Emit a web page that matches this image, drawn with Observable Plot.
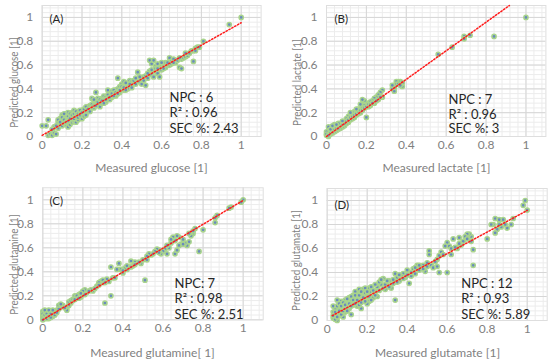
<!DOCTYPE html>
<html><head><meta charset="utf-8">
<script src="https://cdn.jsdelivr.net/npm/d3@7"></script>
<script src="https://cdn.jsdelivr.net/npm/@observablehq/plot@0.6"></script>
<style>
body{margin:0;background:#fff;}
#wrap{position:relative;width:550px;height:361px;overflow:hidden;}
.panel{position:absolute;}
</style></head><body><div id="wrap"></div><script>
// ---- data (measured, predicted) ----
const tickValues = [0, 0.2, 0.4, 0.6, 0.8, 1];

const glucosePoints = [[0.00,0.09],[0.02,0.09],[0.03,0.14],[0.03,0.01],[0.04,0.02],[0.05,0.01],[0.06,0.03],[0.07,0.02],[0.06,0.08],[0.08,0.12],[0.08,0.07],[0.09,0.10],[0.09,0.15],[0.10,0.18],[0.10,0.13],[0.10,0.09],[0.11,0.16],[0.11,0.11],[0.12,0.19],[0.12,0.14],[0.12,0.10],[0.13,0.20],[0.13,0.08],[0.13,0.15],[0.14,0.17],[0.14,0.12],[0.14,0.10],[0.15,0.20],[0.15,0.15],[0.15,0.12],[0.16,0.22],[0.16,0.17],[0.16,0.13],[0.17,0.19],[0.17,0.15],[0.17,0.12],[0.18,0.21],[0.18,0.17],[0.18,0.14],[0.19,0.20],[0.19,0.16],[0.20,0.22],[0.20,0.18],[0.20,0.15],[0.21,0.21],[0.21,0.19],[0.22,0.23],[0.22,0.20],[0.23,0.25],[0.23,0.21],[0.24,0.26],[0.24,0.23],[0.25,0.32],[0.25,0.25],[0.26,0.28],[0.26,0.24],[0.27,0.37],[0.27,0.30],[0.28,0.27],[0.28,0.32],[0.29,0.29],[0.29,0.25],[0.30,0.32],[0.30,0.28],[0.31,0.30],[0.31,0.34],[0.32,0.33],[0.32,0.29],[0.33,0.39],[0.33,0.32],[0.34,0.35],[0.34,0.31],[0.35,0.38],[0.35,0.33],[0.36,0.36],[0.37,0.39],[0.37,0.34],[0.38,0.49],[0.38,0.40],[0.39,0.37],[0.39,0.42],[0.40,0.44],[0.40,0.40],[0.41,0.46],[0.41,0.39],[0.42,0.42],[0.43,0.44],[0.43,0.40],[0.44,0.47],[0.45,0.43],[0.45,0.46],[0.46,0.45],[0.47,0.44],[0.48,0.54],[0.48,0.47],[0.49,0.46],[0.50,0.48],[0.50,0.44],[0.51,0.50],[0.52,0.43],[0.52,0.51],[0.53,0.49],[0.54,0.64],[0.54,0.55],[0.55,0.61],[0.55,0.52],[0.56,0.64],[0.56,0.50],[0.57,0.59],[0.57,0.55],[0.58,0.61],[0.58,0.53],[0.59,0.57],[0.59,0.50],[0.60,0.60],[0.60,0.56],[0.61,0.59],[0.62,0.62],[0.62,0.58],[0.63,0.60],[0.64,0.66],[0.64,0.60],[0.65,0.63],[0.66,0.65],[0.67,0.62],[0.68,0.64],[0.69,0.58],[0.70,0.57],[0.70,0.65],[0.71,0.66],[0.72,0.67],[0.73,0.68],[0.74,0.70],[0.75,0.72],[0.76,0.63],[0.77,0.74],[0.78,0.75],[0.79,0.75],[0.81,0.80],[0.94,0.94],[1.00,1.00],
[0.05,0.06],[0.07,0.09],[0.08,0.14],[0.09,0.12],[0.10,0.16],[0.11,0.14],[0.11,0.19],[0.12,0.12],[0.13,0.17],[0.13,0.13],[0.14,0.19],[0.14,0.15],[0.15,0.18],[0.16,0.19],[0.16,0.15],[0.17,0.21],[0.17,0.17],[0.18,0.19],[0.18,0.16],[0.19,0.22],[0.19,0.18],[0.20,0.20],[0.21,0.23],[0.21,0.17],[0.22,0.25],[0.22,0.18],[0.23,0.23],[0.24,0.21],[0.25,0.27],[0.26,0.26],[0.26,0.31],[0.27,0.26],[0.28,0.29],[0.29,0.31],[0.30,0.30],[0.31,0.28],[0.32,0.31],[0.33,0.35],[0.34,0.33],[0.35,0.36],[0.36,0.34],[0.36,0.39],[0.37,0.37],[0.38,0.36],[0.39,0.39],[0.40,0.42],[0.41,0.41],[0.42,0.45],[0.42,0.39],[0.44,0.44],[0.45,0.41],[0.46,0.47],[0.47,0.49],[0.49,0.50],[0.51,0.47],[0.53,0.53],[0.55,0.56],[0.57,0.57],[0.58,0.57],[0.60,0.62],[0.61,0.57],[0.63,0.62],[0.65,0.61],[0.66,0.62],[0.69,0.66],[0.72,0.70],[0.76,0.72],[0.77,0.72]];

const lactatePoints = [[1.00,1.00],[0.84,0.84],[0.72,0.85],[0.69,0.84],[0.69,0.82],[0.63,0.75],[0.56,0.69],[0.38,0.42],[0.38,0.45],[0.37,0.46],[0.36,0.46],[0.35,0.46],[0.35,0.44],[0.34,0.41],[0.33,0.40],[0.34,0.38],[0.33,0.43],[0.28,0.39],[0.27,0.37],[0.28,0.33],[0.26,0.35],[0.26,0.31],[0.25,0.33],[0.24,0.32],[0.24,0.28],[0.23,0.30],[0.22,0.29],[0.22,0.26],[0.21,0.25],[0.20,0.16],[0.20,0.28],[0.19,0.30],[0.19,0.26],[0.18,0.31],[0.18,0.24],[0.17,0.27],[0.17,0.20],[0.16,0.23],[0.16,0.19],[0.15,0.21],[0.15,0.18],[0.14,0.21],[0.14,0.16],[0.13,0.20],[0.13,0.15],[0.12,0.18],[0.12,0.14],[0.11,0.17],[0.11,0.12],[0.10,0.15],[0.10,0.11],[0.09,0.12],[0.09,0.09],[0.08,0.11],[0.08,0.08],[0.07,0.10],[0.07,0.07],[0.06,0.09],[0.06,0.06],[0.05,0.08],[0.05,0.05],[0.04,0.10],[0.04,0.04],[0.03,0.07],[0.03,0.03],[0.02,0.05],[0.02,0.02],[0.01,0.08],[0.01,0.03],[0.00,0.04],[0.00,0.01],[0.00,0.02],[0.01,0.00],
[0.02,0.03],[0.03,0.05],[0.04,0.06],[0.05,0.07],[0.06,0.07],[0.07,0.09],[0.08,0.10],[0.09,0.11],[0.10,0.13],[0.11,0.14],[0.12,0.16],[0.13,0.17],[0.14,0.18],[0.15,0.19],[0.16,0.21],[0.17,0.22],[0.18,0.22],[0.19,0.24],[0.20,0.25],[0.21,0.27],[0.22,0.27],[0.23,0.28],[0.25,0.30],[0.27,0.33],[0.01,0.01],[0.02,0.06],[0.03,0.09],[0.06,0.11],[0.08,0.13],[0.36,0.44],[0.37,0.43],[0.12,0.20],[0.15,0.23],[0.05,0.10]];

const glutaminePoints = [[1.00,1.00],[0.99,0.98],[0.94,0.94],[0.93,0.93],[0.87,0.87],[0.86,0.81],[0.86,0.85],[0.80,0.75],[0.78,0.57],[0.76,0.76],[0.75,0.72],[0.74,0.70],[0.73,0.65],[0.72,0.62],[0.71,0.64],[0.70,0.67],[0.69,0.63],[0.68,0.69],[0.67,0.70],[0.66,0.66],[0.65,0.69],[0.64,0.64],[0.63,0.60],[0.62,0.55],[0.61,0.59],[0.66,0.55],[0.67,0.58],[0.60,0.57],[0.59,0.55],[0.58,0.58],[0.57,0.59],[0.56,0.57],[0.54,0.54],[0.53,0.55],[0.52,0.53],[0.51,0.33],[0.50,0.50],[0.49,0.47],[0.46,0.48],[0.45,0.45],[0.44,0.49],[0.43,0.44],[0.42,0.42],[0.41,0.43],[0.40,0.39],[0.39,0.42],[0.38,0.47],[0.37,0.42],[0.35,0.35],[0.34,0.44],[0.34,0.20],[0.33,0.32],[0.32,0.34],[0.31,0.14],[0.30,0.31],[0.29,0.32],[0.28,0.31],[0.27,0.28],[0.25,0.24],[0.24,0.25],[0.22,0.23],[0.21,0.25],[0.20,0.24],[0.19,0.19],[0.18,0.21],[0.17,0.18],[0.16,0.20],[0.15,0.16],[0.14,0.14],[0.13,0.12],[0.12,0.10],[0.12,0.08],[0.10,0.12],[0.09,0.11],[0.08,0.12],[0.07,0.08],[0.06,0.06],[0.05,0.05],[0.05,0.03],[0.04,0.07],[0.03,0.05],[0.03,0.01],[0.02,0.07],[0.02,0.03],[0.01,0.06],[0.01,0.01],[0.00,0.07],[0.00,0.04],[0.00,0.02],[0.00,0.00],
[0.00,0.05],[0.01,0.04],[0.01,0.08],[0.02,0.01],[0.02,0.05],[0.03,0.03],[0.03,0.08],[0.04,0.02],[0.04,0.05],[0.05,0.08],[0.06,0.04],[0.07,0.06],[0.08,0.09],[0.09,0.13],[0.11,0.10],[0.13,0.15],[0.14,0.16],[0.15,0.17],[0.16,0.17],[0.17,0.20],[0.18,0.18],[0.19,0.22],[0.21,0.21],[0.23,0.24],[0.26,0.26],[0.28,0.29],[0.30,0.33],[0.31,0.31],[0.36,0.35],[0.40,0.41],[0.42,0.45],[0.44,0.44],[0.46,0.46],[0.48,0.48],[0.52,0.50],[0.55,0.55],[0.58,0.56],[0.62,0.62],[0.64,0.67],[0.68,0.62],[0.70,0.63],[0.73,0.72],[0.75,0.74]];

const glutamatePoints = [[0.99,1.00],[0.98,0.96],[1.00,0.92],[0.93,0.85],[0.92,0.80],[0.90,0.77],[0.88,0.84],[0.87,0.78],[0.86,0.80],[0.85,0.76],[0.84,0.85],[0.84,0.73],[0.83,0.80],[0.82,0.80],[0.80,0.68],[0.73,0.59],[0.73,0.46],[0.72,0.70],[0.71,0.72],[0.70,0.72],[0.69,0.70],[0.68,0.66],[0.67,0.63],[0.66,0.64],[0.65,0.60],[0.63,0.68],[0.62,0.55],[0.61,0.62],[0.60,0.65],[0.59,0.62],[0.60,0.40],[0.57,0.57],[0.56,0.54],[0.55,0.51],[0.54,0.49],[0.56,0.40],[0.51,0.58],[0.51,0.55],[0.50,0.48],[0.49,0.41],[0.48,0.46],[0.47,0.44],[0.46,0.42],[0.45,0.46],[0.44,0.39],[0.43,0.43],[0.42,0.37],[0.41,0.31],[0.40,0.42],[0.39,0.36],[0.38,0.39],[0.37,0.37],[0.36,0.33],[0.35,0.36],[0.34,0.39],[0.34,0.17],[0.33,0.31],[0.32,0.27],[0.31,0.33],[0.30,0.29],[0.29,0.26],[0.28,0.35],[0.27,0.30],[0.26,0.32],[0.25,0.28],[0.25,0.20],[0.24,0.24],[0.23,0.19],[0.22,0.24],[0.21,0.27],[0.21,0.16],[0.20,0.20],[0.20,0.14],[0.19,0.23],[0.18,0.26],[0.17,0.20],[0.17,0.10],[0.16,0.26],[0.16,0.16],[0.15,0.22],[0.15,0.12],[0.14,0.24],[0.14,0.18],[0.13,0.21],[0.13,0.13],[0.12,0.16],[0.12,0.05],[0.11,0.19],[0.11,0.10],[0.10,0.15],[0.10,0.11],[0.09,0.17],[0.09,0.07],[0.08,0.12],[0.08,0.03],[0.07,0.16],[0.07,0.09],[0.06,0.11],[0.06,0.04],[0.05,0.17],[0.05,0.07],[0.05,0.00],[0.04,0.10],[0.04,0.04],[0.03,0.12],[0.03,0.07],[0.03,0.02],[0.04,0.01],
[0.03,0.04],[0.04,0.07],[0.05,0.03],[0.05,0.12],[0.06,0.08],[0.06,0.14],[0.07,0.05],[0.07,0.12],[0.08,0.08],[0.08,0.15],[0.09,0.10],[0.09,0.13],[0.10,0.08],[0.10,0.18],[0.11,0.14],[0.12,0.12],[0.12,0.20],[0.13,0.17],[0.14,0.14],[0.14,0.21],[0.15,0.17],[0.16,0.13],[0.16,0.21],[0.17,0.15],[0.17,0.24],[0.18,0.19],[0.19,0.16],[0.19,0.27],[0.20,0.24],[0.21,0.20],[0.22,0.17],[0.22,0.28],[0.23,0.25],[0.24,0.21],[0.24,0.30],[0.26,0.25],[0.27,0.34],[0.28,0.27],[0.29,0.30],[0.30,0.33],[0.31,0.28],[0.33,0.34],[0.35,0.32],[0.36,0.38],[0.38,0.35],[0.40,0.38],[0.42,0.40],[0.44,0.44],[0.46,0.46],[0.48,0.43],[0.50,0.45],[0.52,0.46],[0.53,0.44],[0.55,0.45],[0.58,0.55],[0.62,0.60],[0.64,0.61],[0.66,0.69],[0.70,0.68],[0.72,0.66],[0.86,0.84],[0.89,0.80]];

// trend lines (start, end)
const glucoseTrend = [[0, 0.01], [1, 0.955]];
const lactateTrend = [[0, 0], [0.917, 1.1]];
const glutamineTrend = [[0, 0], [1, 0.995]];
const glutamateTrend = [[0.025, 0.04], [1, 0.917]];

const panelLabels = ["(A)", "(B)", "(C)", "(D)"];
const xTitles = ["Measured glucose [1]", "Measured lactate [1]", "Measured glutamine[ 1]", "Measured glutamate [1]"];
const yTitles = ["Predicted glucose [1]", "Predicted lactate [1]", "Predicted glutamine [1]", "Predicted glutamate [1]"];
const notesA = ["NPC : 6", "R\u00b2 : 0.96", "SEC %: 2.43"];
const notesB = ["NPC : 7", "R\u00b2 : 0.96", "SEC %: 3"];
const notesC = ["NPC: 7", "R\u00b2 : 0.98", "SEC %: 2.51"];
const notesD = ["NPC : 12", "R\u00b2 : 0.93", "SEC %: 5.89"];

// ---- layout ----
const FONT = "Lato, 'Open Sans', sans-serif";
const minor = d3.range(0.04, 1.09, 0.04);

const panels = [
  {left:0, top:0, w:275, h:180, mL:41.7, mR:14.4, mT:5, mB:44, pts:glucosePoints, trend:glucoseTrend, notes:notesA,
   lab:[49,14], note:[169,92,15.5], xt:[151,163], yt:[9,82]},
  {left:275, top:0, w:275, h:180, mL:51, mR:4.6, mT:5, mB:44, pts:lactatePoints, trend:lactateTrend, notes:notesB,
   lab:[59,14], note:[173,94,14.8], xt:[161,163], yt:[17,82]},
  {left:0, top:180, w:275, h:181, mL:42.3, mR:12.3, mT:7.3, mB:41.7, pts:glutaminePoints, trend:glutamineTrend, notes:notesC,
   lab:[49,16], note:[174,98,15.5], xt:[152,168], yt:[9,84]},
  {left:275, top:180, w:275, h:181, mL:51.7, mR:3.3, mT:8, mB:41, pts:glutamatePoints, trend:glutamateTrend, notes:notesD,
   lab:[59,20], note:[185.7,98,15.5], xt:[162,168], yt:[16,80]}
];

const wrap = document.getElementById("wrap");
panels.forEach((p, i) => {
  const at = (px, py) => ({frameAnchor:"top-left", dx: px - p.mL, dy: py - p.mT});
  const chart = Plot.plot({
    width: p.w, height: p.h,
    marginLeft: p.mL, marginRight: p.mR, marginTop: p.mT, marginBottom: p.mB,
    style: {fontFamily: FONT, fontSize: "12px", color: "#7f7f7f", background: "transparent", overflow: "visible"},
    x: {domain:[0, 1.1], ticks: tickValues, tickFormat: d => String(d), tickSize: 0, tickPadding: 4, label: null},
    y: {domain:[0, 1.1], ticks: tickValues, tickFormat: d => String(d), tickSize: 0, tickPadding: 9, label: null},
    marks: [
      Plot.ruleX(minor, {stroke: "#ececec", strokeWidth: 1}),
      Plot.ruleY(minor, {stroke: "#ececec", strokeWidth: 1}),
      Plot.ruleX(tickValues, {stroke: "#d6d6d6", strokeWidth: 1}),
      Plot.ruleY(tickValues, {stroke: "#d6d6d6", strokeWidth: 1}),
      Plot.frame({stroke: "#dedede"}),
      Plot.dot(p.pts, {x: d => d[0], y: d => d[1], r: 2.1, fill: "#6a8cbc", stroke: "#a9d48c", strokeWidth: 1.5}),
      Plot.line(p.trend, {x: d => d[0], y: d => d[1], stroke: "#ff1a1a", strokeWidth: 1.5, strokeDasharray: "1.4 1.9"}),
      Plot.text([panelLabels[i]], {...at(p.lab[0], p.lab[1]), textAnchor: "start", fill: "#262626", fontSize: 11.5, fontFamily: FONT}),
      ...p.notes.map((t, k) => Plot.text([t], {...at(p.note[0], p.note[1] + k * p.note[2]), textAnchor: "start", fill: "#262626", fontSize: 13, fontFamily: FONT})),
      Plot.text([xTitles[i]], {...at(p.xt[0], p.xt[1]), textAnchor: "middle", fill: "#7f7f7f", fontSize: 12, fontFamily: FONT}),
      Plot.text([yTitles[i]], {...at(p.yt[0], p.yt[1]), textAnchor: "middle", rotate: -90, fill: "#7f7f7f", fontSize: 12, fontFamily: FONT})
    ]
  });
  chart.classList.add("panel");
  chart.style.left = p.left + "px";
  chart.style.top = p.top + "px";
  wrap.appendChild(chart);
  // compress the rotated y title along its length, as in the reference
  d3.select(chart).selectAll("text").filter(function() { return this.textContent === yTitles[i]; })
    .attr("transform", function() { return (this.getAttribute("transform") || "") + " scale(0.82,1)"; });
});
</script></body></html>
